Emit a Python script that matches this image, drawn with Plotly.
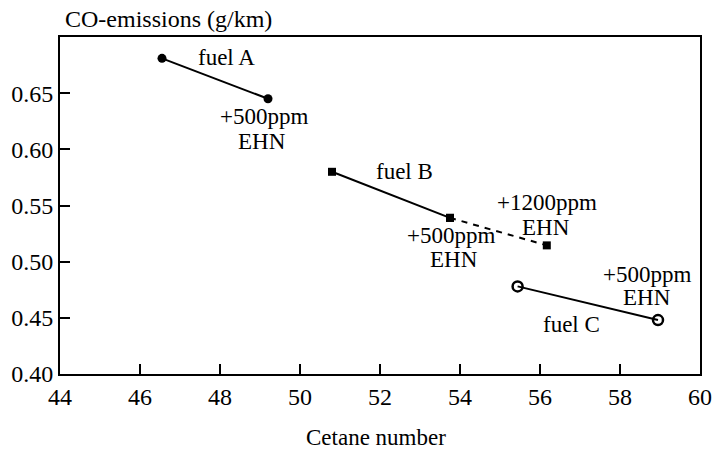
import plotly.graph_objects as go

# Cetane number vs CO emissions for three base fuels with EHN additive
fuel_a_cn = [46.55, 49.2]
fuel_a_co = [0.681, 0.645]
fuel_b_cn = [50.8, 53.75]
fuel_b_co = [0.580, 0.539]
fuel_b_ext_cn = [53.75, 56.17]
fuel_b_ext_co = [0.539, 0.5145]
fuel_c_cn = [55.44, 58.95]
fuel_c_co = [0.478, 0.448]

x_ticks = [44, 46, 48, 50, 52, 54, 56, 58, 60]
y_ticks = [0.40, 0.45, 0.50, 0.55, 0.60, 0.65]

# label text, x, y (data coordinates)
label_text = ["fuel A", "+500ppm", "EHN", "fuel B", "+500ppm", "EHN",
              "+1200ppm", "EHN", "+500ppm", "EHN", "fuel C"]
label_x = [48.17, 49.1, 49.05, 52.6, 53.78, 53.85, 56.18, 56.15, 58.68, 58.68, 56.79]
label_y = [0.682, 0.629, 0.607, 0.580, 0.5235, 0.502, 0.5525, 0.530, 0.489, 0.468, 0.4437]

FONT = "Liberation Serif"
BLACK = "#000000"

fig = go.Figure()
fig.add_trace(go.Scatter(x=fuel_a_cn, y=fuel_a_co, mode="lines+markers",
                         line=dict(color=BLACK, width=2),
                         marker=dict(symbol="circle", size=9, color=BLACK)))
fig.add_trace(go.Scatter(x=fuel_b_ext_cn, y=fuel_b_ext_co, mode="lines+markers",
                         line=dict(color=BLACK, width=2, dash="6px,6px"),
                         marker=dict(symbol="square", size=8, color=BLACK)))
fig.add_trace(go.Scatter(x=fuel_b_cn, y=fuel_b_co, mode="lines+markers",
                         line=dict(color=BLACK, width=2),
                         marker=dict(symbol="square", size=8, color=BLACK)))
fig.add_trace(go.Scatter(x=fuel_c_cn, y=fuel_c_co, mode="lines+markers",
                         line=dict(color=BLACK, width=2),
                         marker=dict(symbol="circle-open", size=10, color=BLACK,
                                     line=dict(width=2.5, color=BLACK))))

for t, x, y in zip(label_text, label_x, label_y):
    fig.add_annotation(x=x, y=y, xref="x", yref="y", text=t, showarrow=False,
                       xanchor="center", yanchor="middle",
                       font=dict(family=FONT, size=23, color=BLACK))

fig.add_annotation(x=0.0, y=1.0, xref="paper", yref="paper", text="CO-emissions (g/km)",
                   showarrow=False, xanchor="left", yanchor="bottom", xshift=3, yshift=3,
                   font=dict(family=FONT, size=24, color=BLACK))
fig.add_annotation(x=0.5, y=0.0, xref="paper", yref="paper", text="Cetane number",
                   showarrow=False, xanchor="center", yanchor="middle", yshift=-63,
                   xshift=-4, font=dict(family=FONT, size=23, color=BLACK))

axis_common = dict(showgrid=False, zeroline=False, showline=True, linecolor=BLACK,
                   linewidth=2, mirror=True, ticks="inside", ticklen=10, tickwidth=2,
                   tickcolor=BLACK, tickfont=dict(family=FONT, size=24, color=BLACK))

fig.update_xaxes(range=[44, 60], tickvals=x_ticks, ticktext=[str(v) for v in x_ticks],
                 **axis_common)
fig.update_yaxes(range=[0.40, 0.70], tickvals=y_ticks,
                 ticktext=[f"{v:.2f}" for v in y_ticks], **axis_common)

fig.update_layout(width=723, height=451, showlegend=False,
                  plot_bgcolor="white", paper_bgcolor="white",
                  margin=dict(l=59, r=11, t=37, b=77))

fig.write_html("out.html")
